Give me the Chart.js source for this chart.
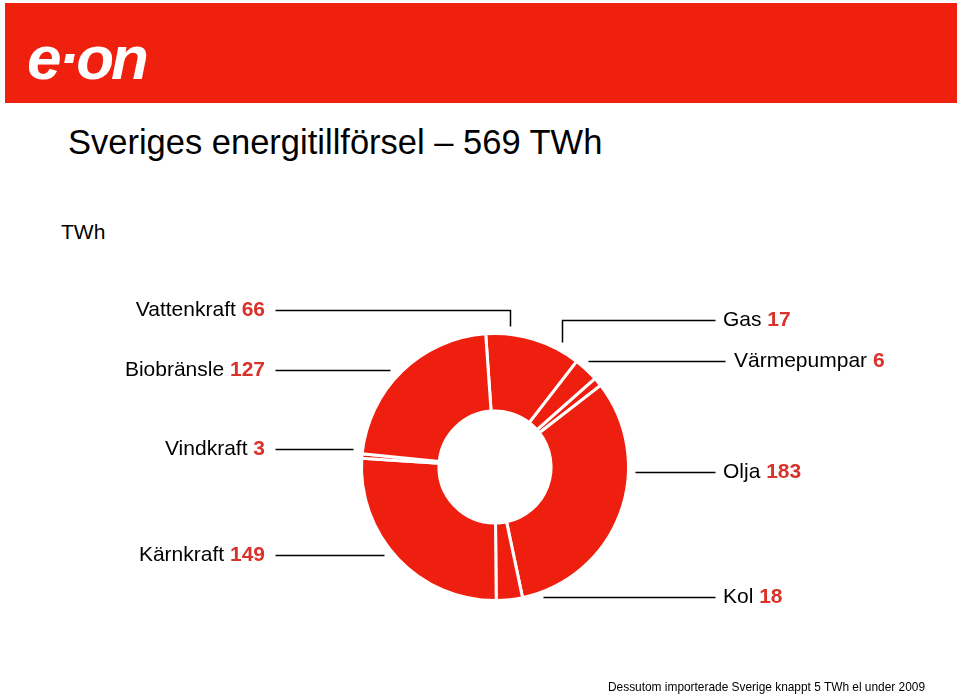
<!DOCTYPE html>
<html>
<head>
<meta charset="utf-8">
<script src="https://cdn.jsdelivr.net/npm/chart.js@4.4.1/dist/chart.umd.min.js"></script>
<style>
  body { margin: 0; width: 960px; height: 696px; background: #fff; position: relative; overflow: hidden;
         font-family: "Liberation Sans", Arial, sans-serif; color: #000; }
  #band { position: absolute; left: 5px; top: 3px; width: 952px; height: 100px; background: #f0200f; }
  #logo { position: absolute; left: 22px; top: 24px; color: #fff; font: italic bold 62px "Liberation Sans", Arial, sans-serif;
          letter-spacing: -3px; line-height: 62px; }
  #title { position: absolute; left: 68px; top: 125px; font-size: 34.5px; line-height: 34px; white-space: pre; }
  #unit { position: absolute; left: 61px; top: 221px; font-size: 21px; line-height: 21px; }
  #note { position: absolute; left: 608px; top: 681px; font-size: 11.9px; line-height: 12px; white-space: nowrap; }
  #wrap { position: absolute; left: 0; top: 0; width: 960px; height: 696px; }
</style>
</head>
<body>
<div id="band"><div id="logo">e·on</div></div>
<div id="title">Sveriges energitillförsel – 569 TWh</div>
<div id="unit">TWh</div>
<div id="wrap"><canvas id="chart"></canvas></div>
<div id="note">Dessutom importerade Sverige knappt 5 TWh el under 2009</div>
<script>
// energy sources, clockwise from the top
const sources = ['Vattenkraft', 'Gas', 'Värmepumpar', 'Olja', 'Kol', 'Kärnkraft', 'Vindkraft', 'Biobränsle'];
const twh = [66, 17, 6, 183, 18, 149, 3, 127];

const RED = '#ef1f0f';
const NUM_RED = '#d9322a';

// leader lines: label side, text anchor and line path, offsets from the doughnut centre
const leaders = {
  'Vattenkraft': { side: 'l', tx: -230, ty: -157, path: [[-220, -157], [15, -157], [15, -141]] },
  'Biobränsle':  { side: 'l', tx: -230, ty: -97,  path: [[-220, -97], [-105, -97]] },
  'Vindkraft':   { side: 'l', tx: -230, ty: -18,  path: [[-220, -18], [-142, -18]] },
  'Kärnkraft':   { side: 'l', tx: -230, ty: 88,   path: [[-220, 88], [-111, 88]] },
  'Gas':         { side: 'r', tx: 228,  ty: -147, path: [[67, -125], [67, -147], [220, -147]] },
  'Värmepumpar': { side: 'r', tx: 239,  ty: -106, path: [[93, -106], [230, -106]] },
  'Olja':        { side: 'r', tx: 228,  ty: 5,    path: [[140, 5], [220, 5]] },
  'Kol':         { side: 'r', tx: 228,  ty: 130,  path: [[48, 130], [220, 130]] },
};

const leaderPlugin = {
  id: 'leaders',
  afterDraw(chart) {
    const arc = chart.getDatasetMeta(0).data[0];
    const cx = arc.x, cy = arc.y;
    const ctx = chart.ctx;
    ctx.save();
    ctx.strokeStyle = '#000';
    ctx.lineWidth = 1.5;
    ctx.textBaseline = 'middle';
    sources.forEach((name, i) => {
      const l = leaders[name];
      ctx.beginPath();
      l.path.forEach(([dx, dy], k) => {
        const x = Math.round(cx + dx) + 0.5, y = Math.round(cy + dy) + 0.5;
        k ? ctx.lineTo(x, y) : ctx.moveTo(x, y);
      });
      ctx.stroke();
      const label = name + ' ';
      const num = String(twh[i]);
      ctx.font = '21px "Liberation Sans", Arial, sans-serif';
      const w1 = ctx.measureText(label).width;
      ctx.font = 'bold 21px "Liberation Sans", Arial, sans-serif';
      const w2 = ctx.measureText(num).width;
      let x = cx + l.tx;
      if (l.side === 'l') x -= w1 + w2;
      const y = cy + l.ty;
      ctx.textAlign = 'left';
      ctx.font = '21px "Liberation Sans", Arial, sans-serif';
      ctx.fillStyle = '#000';
      ctx.fillText(label, x, y);
      ctx.font = 'bold 21px "Liberation Sans", Arial, sans-serif';
      ctx.fillStyle = NUM_RED;
      ctx.fillText(num, x + w1, y);
    });
    ctx.restore();
  }
};

new Chart(document.getElementById('chart'), {
  type: 'doughnut',
  data: {
    labels: sources,
    datasets: [{
      data: twh,
      backgroundColor: RED,
      borderColor: '#fff',
      borderWidth: 3,
    }]
  },
  options: {
    responsive: true,
    maintainAspectRatio: false,
    animation: false,
    rotation: -4,
    cutout: '42%',
    layout: { padding: { left: 360, right: 330, top: 332, bottom: 94 } },
    plugins: { legend: { display: false }, tooltip: { enabled: false }, title: { display: false } }
  },
  plugins: [leaderPlugin]
});
</script>
</body>
</html>
